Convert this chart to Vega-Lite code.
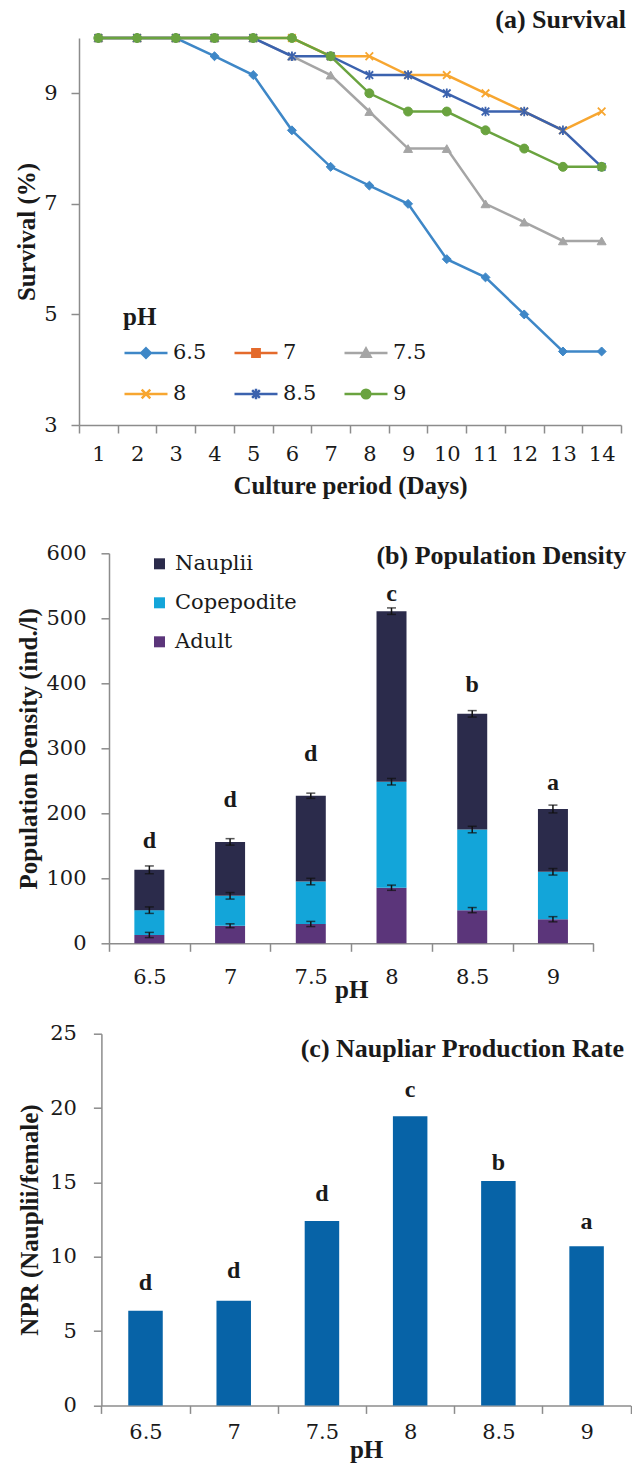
{
  "$schema": "https://vega.github.io/schema/vega-lite/v6.json",
  "background": "white",
  "padding": {"left": 14, "top": 7, "right": 0, "bottom": 0},
  "config": {
    "view": {"stroke": null},
    "font": "Liberation Serif",
    "axis": {"domainColor": "#8c8c8c", "domainWidth": 1.5, "tickColor": "#8c8c8c", "tickWidth": 1.5, "tickSize": 8, "labelFont": "DejaVu Serif", "labelFontSize": 21, "labelColor": "#1a1a1a", "titleFont": "Liberation Serif", "titleFontSize": 25, "titleFontWeight": "bold", "titleColor": "#1a1a1a", "grid": false, "labelOverlap": false},
    "title": {"font": "Liberation Serif", "fontSize": 26, "fontWeight": "bold", "color": "#1a1a1a", "anchor": "end", "frame": "group", "baseline": "alphabetic"},
    "legend": {"labelFont": "DejaVu Serif", "labelFontSize": 21, "labelColor": "#1a1a1a", "titleFont": "Liberation Serif", "titleFontSize": 25, "titleFontWeight": "bold", "titleColor": "#1a1a1a", "padding": 0}
  },
  "datasets": {
    "survival": [
      {"pH": "6.5", "Day": 1, "Survival": 10}, {"pH": "6.5", "Day": 2, "Survival": 10}, {"pH": "6.5", "Day": 3, "Survival": 10}, {"pH": "6.5", "Day": 4, "Survival": 9.67}, {"pH": "6.5", "Day": 5, "Survival": 9.33}, {"pH": "6.5", "Day": 6, "Survival": 8.33}, {"pH": "6.5", "Day": 7, "Survival": 7.67}, {"pH": "6.5", "Day": 8, "Survival": 7.33}, {"pH": "6.5", "Day": 9, "Survival": 7.0}, {"pH": "6.5", "Day": 10, "Survival": 6.0}, {"pH": "6.5", "Day": 11, "Survival": 5.67}, {"pH": "6.5", "Day": 12, "Survival": 5.0}, {"pH": "6.5", "Day": 13, "Survival": 4.33}, {"pH": "6.5", "Day": 14, "Survival": 4.33},
      {"pH": "7.5", "Day": 1, "Survival": 10}, {"pH": "7.5", "Day": 2, "Survival": 10}, {"pH": "7.5", "Day": 3, "Survival": 10}, {"pH": "7.5", "Day": 4, "Survival": 10}, {"pH": "7.5", "Day": 5, "Survival": 10}, {"pH": "7.5", "Day": 6, "Survival": 9.67}, {"pH": "7.5", "Day": 7, "Survival": 9.33}, {"pH": "7.5", "Day": 8, "Survival": 8.67}, {"pH": "7.5", "Day": 9, "Survival": 8.0}, {"pH": "7.5", "Day": 10, "Survival": 8.0}, {"pH": "7.5", "Day": 11, "Survival": 7.0}, {"pH": "7.5", "Day": 12, "Survival": 6.67}, {"pH": "7.5", "Day": 13, "Survival": 6.33}, {"pH": "7.5", "Day": 14, "Survival": 6.33},
      {"pH": "8", "Day": 1, "Survival": 10}, {"pH": "8", "Day": 2, "Survival": 10}, {"pH": "8", "Day": 3, "Survival": 10}, {"pH": "8", "Day": 4, "Survival": 10}, {"pH": "8", "Day": 5, "Survival": 10}, {"pH": "8", "Day": 6, "Survival": 10}, {"pH": "8", "Day": 7, "Survival": 9.67}, {"pH": "8", "Day": 8, "Survival": 9.67}, {"pH": "8", "Day": 9, "Survival": 9.33}, {"pH": "8", "Day": 10, "Survival": 9.33}, {"pH": "8", "Day": 11, "Survival": 9.0}, {"pH": "8", "Day": 12, "Survival": 8.67}, {"pH": "8", "Day": 13, "Survival": 8.33}, {"pH": "8", "Day": 14, "Survival": 8.67},
      {"pH": "8.5", "Day": 1, "Survival": 10}, {"pH": "8.5", "Day": 2, "Survival": 10}, {"pH": "8.5", "Day": 3, "Survival": 10}, {"pH": "8.5", "Day": 4, "Survival": 10}, {"pH": "8.5", "Day": 5, "Survival": 10}, {"pH": "8.5", "Day": 6, "Survival": 9.67}, {"pH": "8.5", "Day": 7, "Survival": 9.67}, {"pH": "8.5", "Day": 8, "Survival": 9.33}, {"pH": "8.5", "Day": 9, "Survival": 9.33}, {"pH": "8.5", "Day": 10, "Survival": 9.0}, {"pH": "8.5", "Day": 11, "Survival": 8.67}, {"pH": "8.5", "Day": 12, "Survival": 8.67}, {"pH": "8.5", "Day": 13, "Survival": 8.33}, {"pH": "8.5", "Day": 14, "Survival": 7.67},
      {"pH": "9", "Day": 1, "Survival": 10}, {"pH": "9", "Day": 2, "Survival": 10}, {"pH": "9", "Day": 3, "Survival": 10}, {"pH": "9", "Day": 4, "Survival": 10}, {"pH": "9", "Day": 5, "Survival": 10}, {"pH": "9", "Day": 6, "Survival": 10}, {"pH": "9", "Day": 7, "Survival": 9.67}, {"pH": "9", "Day": 8, "Survival": 9.0}, {"pH": "9", "Day": 9, "Survival": 8.67}, {"pH": "9", "Day": 10, "Survival": 8.67}, {"pH": "9", "Day": 11, "Survival": 8.33}, {"pH": "9", "Day": 12, "Survival": 8.0}, {"pH": "9", "Day": 13, "Survival": 7.67}, {"pH": "9", "Day": 14, "Survival": 7.67}
    ],
    "density": [
      {"pH": "6.5", "Stage": "Adult", "Density": 12.8}, {"pH": "6.5", "Stage": "Copepodite", "Density": 38.2}, {"pH": "6.5", "Stage": "Nauplii", "Density": 62},
      {"pH": "7", "Stage": "Adult", "Density": 27}, {"pH": "7", "Stage": "Copepodite", "Density": 46}, {"pH": "7", "Stage": "Nauplii", "Density": 83},
      {"pH": "7.5", "Stage": "Adult", "Density": 29.7}, {"pH": "7.5", "Stage": "Copepodite", "Density": 65.3}, {"pH": "7.5", "Stage": "Nauplii", "Density": 132},
      {"pH": "8", "Stage": "Adult", "Density": 85.5}, {"pH": "8", "Stage": "Copepodite", "Density": 163.1}, {"pH": "8", "Stage": "Nauplii", "Density": 262.4},
      {"pH": "8.5", "Stage": "Adult", "Density": 51}, {"pH": "8.5", "Stage": "Copepodite", "Density": 124}, {"pH": "8.5", "Stage": "Nauplii", "Density": 178},
      {"pH": "9", "Stage": "Adult", "Density": 37}, {"pH": "9", "Stage": "Copepodite", "Density": 73}, {"pH": "9", "Stage": "Nauplii", "Density": 96.6}
    ],
    "density_err": [
      {"pH": "6.5", "Stage": "Adult", "Top": 12.8, "Err": 4}, {"pH": "6.5", "Stage": "Copepodite", "Top": 51, "Err": 5}, {"pH": "6.5", "Stage": "Nauplii", "Top": 113, "Err": 6},
      {"pH": "7", "Stage": "Adult", "Top": 27, "Err": 3}, {"pH": "7", "Stage": "Copepodite", "Top": 73, "Err": 5}, {"pH": "7", "Stage": "Nauplii", "Top": 156, "Err": 5},
      {"pH": "7.5", "Stage": "Adult", "Top": 29.7, "Err": 4}, {"pH": "7.5", "Stage": "Copepodite", "Top": 95, "Err": 5}, {"pH": "7.5", "Stage": "Nauplii", "Top": 227, "Err": 4},
      {"pH": "8", "Stage": "Adult", "Top": 85.5, "Err": 4}, {"pH": "8", "Stage": "Copepodite", "Top": 248.6, "Err": 5}, {"pH": "8", "Stage": "Nauplii", "Top": 511, "Err": 5},
      {"pH": "8.5", "Stage": "Adult", "Top": 51, "Err": 4}, {"pH": "8.5", "Stage": "Copepodite", "Top": 175, "Err": 5}, {"pH": "8.5", "Stage": "Nauplii", "Top": 353, "Err": 5},
      {"pH": "9", "Stage": "Adult", "Top": 37, "Err": 4}, {"pH": "9", "Stage": "Copepodite", "Top": 110, "Err": 5}, {"pH": "9", "Stage": "Nauplii", "Top": 206.6, "Err": 6}
    ],
    "letters_b": [
      {"pH": "6.5", "Letter": "d", "LetterY": 158}, {"pH": "7", "Letter": "d", "LetterY": 220}, {"pH": "7.5", "Letter": "d", "LetterY": 292},
      {"pH": "8", "Letter": "c", "LetterY": 538}, {"pH": "8.5", "Letter": "b", "LetterY": 397}, {"pH": "9", "Letter": "a", "LetterY": 246}
    ],
    "npr": [
      {"pH": "6.5", "NPR": 6.37, "Letter": "d", "LetterY": 8.25}, {"pH": "7", "NPR": 7.04, "Letter": "d", "LetterY": 9.05}, {"pH": "7.5", "NPR": 12.4, "Letter": "d", "LetterY": 14.2},
      {"pH": "8", "NPR": 19.45, "Letter": "c", "LetterY": 21.2}, {"pH": "8.5", "NPR": 15.1, "Letter": "b", "LetterY": 16.3}, {"pH": "9", "NPR": 10.7, "Letter": "a", "LetterY": 12.35}
    ]
  },
  "columns": 1,
  "spacing": 44.3,
  "resolve": {"scale": {"color": "independent"}, "legend": {"color": "independent"}},
  "concat": [
    {
      "width": 542,
      "height": 387,
      "title": {"text": "(a) Survival", "offset": -3.7, "dx": 5},
      "data": {"name": "survival"},
      "encoding": {
        "x": {"field": "Day", "type": "ordinal", "scale": {"paddingInner": 0, "paddingOuter": 0}, "axis": {"title": "Culture period (Days)", "labelAngle": 0, "tickBand": "extent", "labelPadding": 10, "titlePadding": 9}},
        "y": {"field": "Survival", "type": "quantitative", "scale": {"domain": [3, 10], "nice": false, "zero": false}, "axis": {"values": [3, 5, 7, 9], "title": "Survival (%)", "labelPadding": 14, "titlePadding": 4}}
      },
      "layer": [
        {
          "mark": {"type": "line", "strokeWidth": 2.5},
          "encoding": {
            "color": {
              "field": "pH", "type": "nominal",
              "scale": {"domain": ["6.5", "7", "7.5", "8", "8.5", "9"], "range": ["#3e87c7", "#e46a2b", "#a5a5a5", "#f7a630", "#3b62ae", "#6aa33f"]},
              "legend": {
                "title": "pH", "orient": "none", "legendX": 44, "legendY": 267, "direction": "horizontal", "columns": 3, "columnPadding": 22, "rowPadding": 8,
                "symbolSize": 1849, "labelOffset": 4, "titlePadding": 0,
                "encode": {"symbols": {"update": {
                  "shape": {"signal": "datum.value==='6.5' ? 'M-1,0L1,0M0,-0.22L0.22,0L0,0.22L-0.22,0Z' : datum.value==='7' ? 'M-1,0L1,0M-0.17,-0.17L0.17,-0.17L0.17,0.17L-0.17,0.17Z' : datum.value==='7.5' ? 'M-1,0L1,0M0,-0.21L0.21,0.17L-0.21,0.17Z' : datum.value==='8' ? 'M-1,0L1,0M-0.2,-0.2L0.2,0.2M-0.2,0.2L0.2,-0.2' : datum.value==='8.5' ? 'M-1,0L1,0M-0.18,-0.18L0.18,0.18M-0.18,0.18L0.18,-0.18M0,-0.24L0,0.24' : 'M-1,0L1,0M0.2,0A0.2,0.2 0 1,1 -0.2,0A0.2,0.2 0 1,1 0.2,0Z'"},
                  "fill": {"signal": "datum.value==='6.5' ? '#3e87c7' : datum.value==='7' ? '#e46a2b' : datum.value==='7.5' ? '#a5a5a5' : datum.value==='8' ? '#f7a630' : datum.value==='8.5' ? '#3b62ae' : '#6aa33f'"},
                  "stroke": {"signal": "datum.value==='6.5' ? '#3e87c7' : datum.value==='7' ? '#e46a2b' : datum.value==='7.5' ? '#a5a5a5' : datum.value==='8' ? '#f7a630' : datum.value==='8.5' ? '#3b62ae' : '#6aa33f'"},
                  "strokeWidth": {"value": 2.5},
                  "opacity": {"value": 1},
                  "fillOpacity": {"value": 1},
                  "strokeOpacity": {"value": 1}
                }}}
              }
            }
          }
        },
        {"transform": [{"filter": {"field": "pH", "equal": "6.5"}}], "mark": {"type": "point", "shape": "diamond", "filled": true, "fill": "#3e87c7", "stroke": "#3e87c7", "strokeWidth": 1, "size": 80, "opacity": 1}},
        {"transform": [{"filter": {"field": "pH", "equal": "7.5"}}], "mark": {"type": "point", "shape": "triangle-up", "filled": true, "fill": "#a5a5a5", "stroke": "#a5a5a5", "strokeWidth": 1, "size": 80, "opacity": 1}},
        {"transform": [{"filter": {"field": "pH", "equal": "8"}}], "mark": {"type": "point", "shape": "M-0.8,-0.8L0.8,0.8M-0.8,0.8L0.8,-0.8", "filled": false, "stroke": "#f7a630", "strokeWidth": 1.8, "size": 90, "opacity": 1}},
        {"transform": [{"filter": {"field": "pH", "equal": "8.5"}}], "mark": {"type": "point", "shape": "M-0.8,-0.8L0.8,0.8M-0.8,0.8L0.8,-0.8M0,-1L0,1", "filled": false, "stroke": "#3b62ae", "strokeWidth": 1.8, "size": 90, "opacity": 1}},
        {"transform": [{"filter": {"field": "pH", "equal": "9"}}], "mark": {"type": "point", "shape": "circle", "filled": true, "fill": "#6aa33f", "stroke": "#6aa33f", "strokeWidth": 1, "size": 80, "opacity": 1}}
      ]
    },
    {
      "columns": 1,
      "spacing": 20.4,
      "resolve": {"scale": {"color": "independent"}, "legend": {"color": "independent"}},
      "concat": [
        {
          "width": 514.3,
          "height": 390,
          "title": {"text": "(b) Population Density", "offset": -27, "dx": 33},
          "encoding": {
            "x": {"field": "pH", "type": "ordinal", "scale": {"paddingInner": 0, "paddingOuter": 0, "range": [30, 514.3]}, "axis": {"title": "pH", "labelAngle": 0, "tickBand": "extent", "labelPadding": 15, "titlePadding": -10}}
          },
          "layer": [
            {
              "data": {"name": "density"},
              "mark": {"type": "bar", "size": 30},
              "encoding": {
                "y": {"field": "Density", "type": "quantitative", "scale": {"domain": [0, 600], "nice": false}, "title": "Population  Density (ind./l)", "axis": {"values": [0, 100, 200, 300, 400, 500, 600], "labelPadding": 15, "titlePadding": 4.5, "offset": -30}},
                "color": {"field": "Stage", "type": "nominal", "scale": {"domain": ["Nauplii", "Copepodite", "Adult"], "range": ["#2b2b4b", "#13a5d9", "#5b357a"]},
                  "legend": {"title": null, "orient": "none", "legendX": 70, "legendY": 0, "symbolType": "square", "symbolSize": 121, "symbolStrokeWidth": 0, "rowPadding": 17, "labelOffset": 5}},
                "order": {"field": "Stage", "type": "nominal", "sort": "ascending"}
              }
            },
            {
              "data": {"name": "density_err"},
              "mark": {"type": "errorbar", "color": "#111111", "thickness": 1.5, "ticks": {"size": 9, "thickness": 1.5}},
              "encoding": {
                "y": {"field": "Top", "type": "quantitative", "title": "Population  Density (ind./l)"},
                "yError": {"field": "Err"}
              }
            },
            {
              "data": {"name": "letters_b"},
              "mark": {"type": "text", "font": "Liberation Serif", "fontSize": 24, "fontWeight": "bold", "baseline": "middle", "color": "#1a1a1a"},
              "encoding": {
                "y": {"field": "LetterY", "type": "quantitative", "title": "Population  Density (ind./l)"},
                "text": {"field": "Letter"}
              }
            }
          ]
        },
        {
          "width": 551.7,
          "height": 371.7,
          "title": {"text": "(c) Naupliar Production Rate", "offset": -39, "dx": -6.7},
          "data": {"name": "npr"},
          "encoding": {
            "x": {"field": "pH", "type": "ordinal", "scale": {"paddingInner": 0, "paddingOuter": 0, "range": [22.4, 551.7]}, "axis": {"title": "pH", "labelAngle": 0, "tickBand": "extent", "labelPadding": 8, "titlePadding": -5}}
          },
          "layer": [
            {
              "mark": {"type": "bar", "size": 34.5, "color": "#0763a7"},
              "encoding": {
                "y": {"field": "NPR", "type": "quantitative", "scale": {"domain": [0, 25], "nice": false}, "title": "NPR  (Nauplii/female)", "axis": {"values": [0, 5, 10, 15, 20, 25], "labelPadding": 17, "titlePadding": 7, "offset": -22.4}}
              }
            },
            {
              "mark": {"type": "text", "font": "Liberation Serif", "fontSize": 24, "fontWeight": "bold", "baseline": "middle", "color": "#1a1a1a"},
              "encoding": {
                "y": {"field": "LetterY", "type": "quantitative", "title": "NPR  (Nauplii/female)"},
                "text": {"field": "Letter"}
              }
            }
          ]
        }
      ]
    }
  ]
}
